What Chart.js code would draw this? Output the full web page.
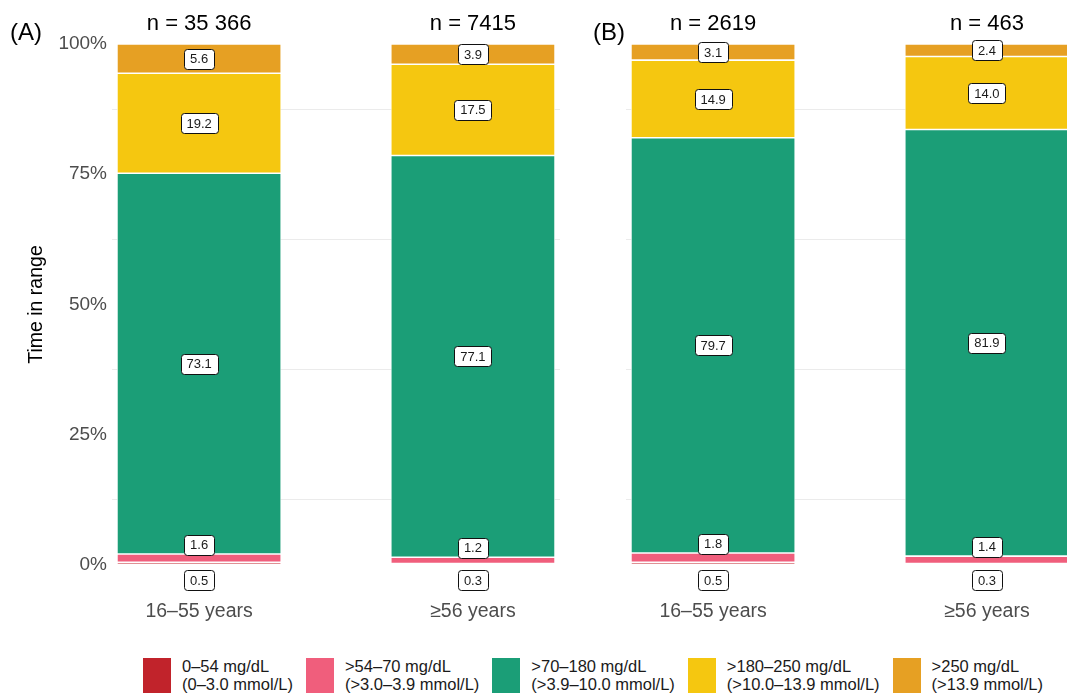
<!DOCTYPE html>
<html>
<head>
<meta charset="utf-8">
<script src="https://cdn.jsdelivr.net/npm/chart.js@4"></script>
<style>
  html, body { margin: 0; padding: 0; background: #fff; overflow: hidden; }
  #wrap { position: relative; width: 1067px; height: 696px; overflow: hidden; font-family: "Liberation Sans", Arial, sans-serif; }
  canvas { position: absolute; top: 0; }
  #chartA { left: 0; }
  #chartB { left: 590px; }
  #legend { position: absolute; left: 143px; top: 658px; display: flex; gap: 13px; }
  .item { display: flex; align-items: flex-start; }
  .swatch { width: 28px; height: 35px; margin-right: 11px; }
  .txt { font-size: 16.5px; line-height: 17.5px; color: #1a1a1a; white-space: nowrap; }
</style>
</head>
<body>
<div id="wrap">
  <canvas id="chartA" width="590" height="640"></canvas>
  <canvas id="chartB" width="484" height="640"></canvas>
  <div id="legend"></div>
</div>
<script>
// categories
const ageGroups = ['16–55 years', '≥56 years'];
const panelTags = ['(A)', '(B)'];
const countsA = ['n = 35 366', 'n = 7415'];
const countsB = ['n = 2619', 'n = 463'];

// glucose ranges (legend)
const rangeLabels = [
  ['0–54 mg/dL', '(0–3.0 mmol/L)'],
  ['>54–70 mg/dL', '(>3.0–3.9 mmol/L)'],
  ['>70–180 mg/dL', '(>3.9–10.0 mmol/L)'],
  ['>180–250 mg/dL', '(>10.0–13.9 mmol/L)'],
  ['>250 mg/dL', '(>13.9 mmol/L)']
];
const rangeColors = ['#c1232b', '#f05e7c', '#1b9e77', '#f5c710', '#e6a023'];

// % time in range, [16–55 years, ≥56 years]
const veryLowA = [0.5, 0.3];
const lowA = [1.6, 1.2];
const inRangeA = [73.1, 77.1];
const highA = [19.2, 17.5];
const veryHighA = [5.6, 3.9];

const veryLowB = [0.5, 0.3];
const lowB = [1.8, 1.4];
const inRangeB = [79.7, 81.9];
const highB = [14.9, 14.0];
const veryHighB = [3.1, 2.4];

const yTicks = [0, 25, 50, 75, 100];

const FONT = '"Liberation Sans", Arial, sans-serif';

function drawBox(ctx, x, y, text) {
  ctx.font = '13px ' + FONT;
  const w = Math.round(ctx.measureText(text).width + 12);
  const h = 20;
  const bx = Math.round(x - w / 2) + 0.5;
  const by = Math.round(y - h / 2) + 0.5;
  ctx.beginPath();
  ctx.roundRect(bx, by, w, h, 3);
  ctx.fillStyle = '#fff';
  ctx.fill();
  ctx.lineWidth = 1;
  ctx.strokeStyle = '#111';
  ctx.stroke();
  ctx.fillStyle = '#1a1a1a';
  ctx.textAlign = 'center';
  ctx.textBaseline = 'middle';
  ctx.fillText(text, x, y + 1);
}

// boxed value labels, n = ... headers and panel tag
const labelPlugin = {
  id: 'segLabels',
  afterDatasetsDraw(chart, args, opts) {
    const ctx = chart.ctx;
    const ys = chart.scales.y, xs = chart.scales.x;
    const ds = chart.data.datasets;
    ctx.save();
    ds.forEach((set, i) => {
      chart.getDatasetMeta(i).data.forEach((bar, j) => {
        const v = set.data[j].y;
        let cy;
        if (i === 0) cy = ys.getPixelForValue(-2.9);            // pushed below the bar
        else if (i === 1) cy = ys.getPixelForValue(ds[0].data[j].y + v + 1.8); // pushed up
        else cy = (bar.y + bar.base) / 2;
        drawBox(ctx, bar.x, cy, v.toFixed(1));
      });
    });
    ctx.fillStyle = '#000';
    ctx.textAlign = 'center';
    ctx.textBaseline = 'middle';
    ctx.font = '22px ' + FONT;
    opts.counts.forEach((c, j) => ctx.fillText(c, xs.getPixelForValue(j + 1), 24));
    ctx.textAlign = 'left';
    ctx.font = '24px ' + FONT;
    ctx.fillText(opts.tag, opts.tagX, 33);
    ctx.restore();
  }
};

function makeChart(id, series, counts, tag, showY) {
  const datasets = series.map((vals, i) => ({
    label: rangeLabels[i].join(' '),
    data: vals.map((v, j) => ({ x: j + 1, y: v })),
    backgroundColor: rangeColors[i],
    borderColor: '#ffffff',
    borderWidth: 0.8,
    borderSkipped: false,
    barPercentage: 0.6,
    categoryPercentage: 1
  }));
  return new Chart(document.getElementById(id), {
    type: 'bar',
    data: { datasets },
    plugins: [labelPlugin],
    options: {
      responsive: false,
      animation: false,
      layout: { padding: { top: 44, left: showY ? 0 : 36, right: showY ? 30 : 0, bottom: 0 } },
      plugins: {
        legend: { display: false },
        tooltip: { enabled: false },
        segLabels: { counts, tag, tagX: showY ? 10 : 3 }
      },
      scales: {
        x: {
          type: 'linear',
          stacked: true,
          offset: false,
          min: 0.682,
          max: 2.318,
          afterBuildTicks: s => { s.ticks = ageGroups.map((g, i) => ({ value: i + 1 })); },
          afterFit: s => { s.height = 75; },
          grid: { display: false, drawTicks: false, offset: false },
          border: { display: false },
          ticks: {
            padding: 35,
            color: '#4d4d4d',
            font: { family: FONT, size: 19.5 },
            callback: v => ageGroups[Math.round(v) - 1]
          }
        },
        y: {
          stacked: true,
          min: 0,
          max: 100,
          afterBuildTicks: s => {
            const t = [];
            yTicks.forEach((v, i) => { t.push({ value: v }); if (i < yTicks.length - 1) t.push({ value: v + 12.5 }); });
            s.ticks = t;
          },
          afterFit: s => { s.width = showY ? 112 : 0; },
          border: { display: false },
          grid: {
            drawTicks: false,
            lineWidth: 1,
            color: c => (c.tick && yTicks.includes(c.tick.value)) ? 'rgba(0,0,0,0)' : '#ebebeb'
          },
          ticks: {
            display: showY,
            padding: 5,
            color: '#4d4d4d',
            font: { family: FONT, size: 19 },
            callback: v => yTicks.includes(v) ? v + '%' : ''
          },
          title: {
            display: showY,
            text: 'Time in range',
            color: '#000',
            font: { family: FONT, size: 19.5 },
            padding: { top: 25, bottom: 0 }
          }
        }
      }
    }
  });
}

makeChart('chartA', [veryLowA, lowA, inRangeA, highA, veryHighA], countsA, panelTags[0], true);
makeChart('chartB', [veryLowB, lowB, inRangeB, highB, veryHighB], countsB, panelTags[1], false);

// legend
const legend = document.getElementById('legend');
rangeLabels.forEach((lines, i) => {
  const item = document.createElement('div');
  item.className = 'item';
  item.innerHTML = '<div class="swatch" style="background:' + rangeColors[i] + '"></div>' +
    '<div class="txt">' + lines.map(l => l.replace(/&/g, '&amp;').replace(/</g, '&lt;').replace(/>/g, '&gt;')).join('<br>') + '</div>';
  legend.appendChild(item);
});
</script>
</body>
</html>
